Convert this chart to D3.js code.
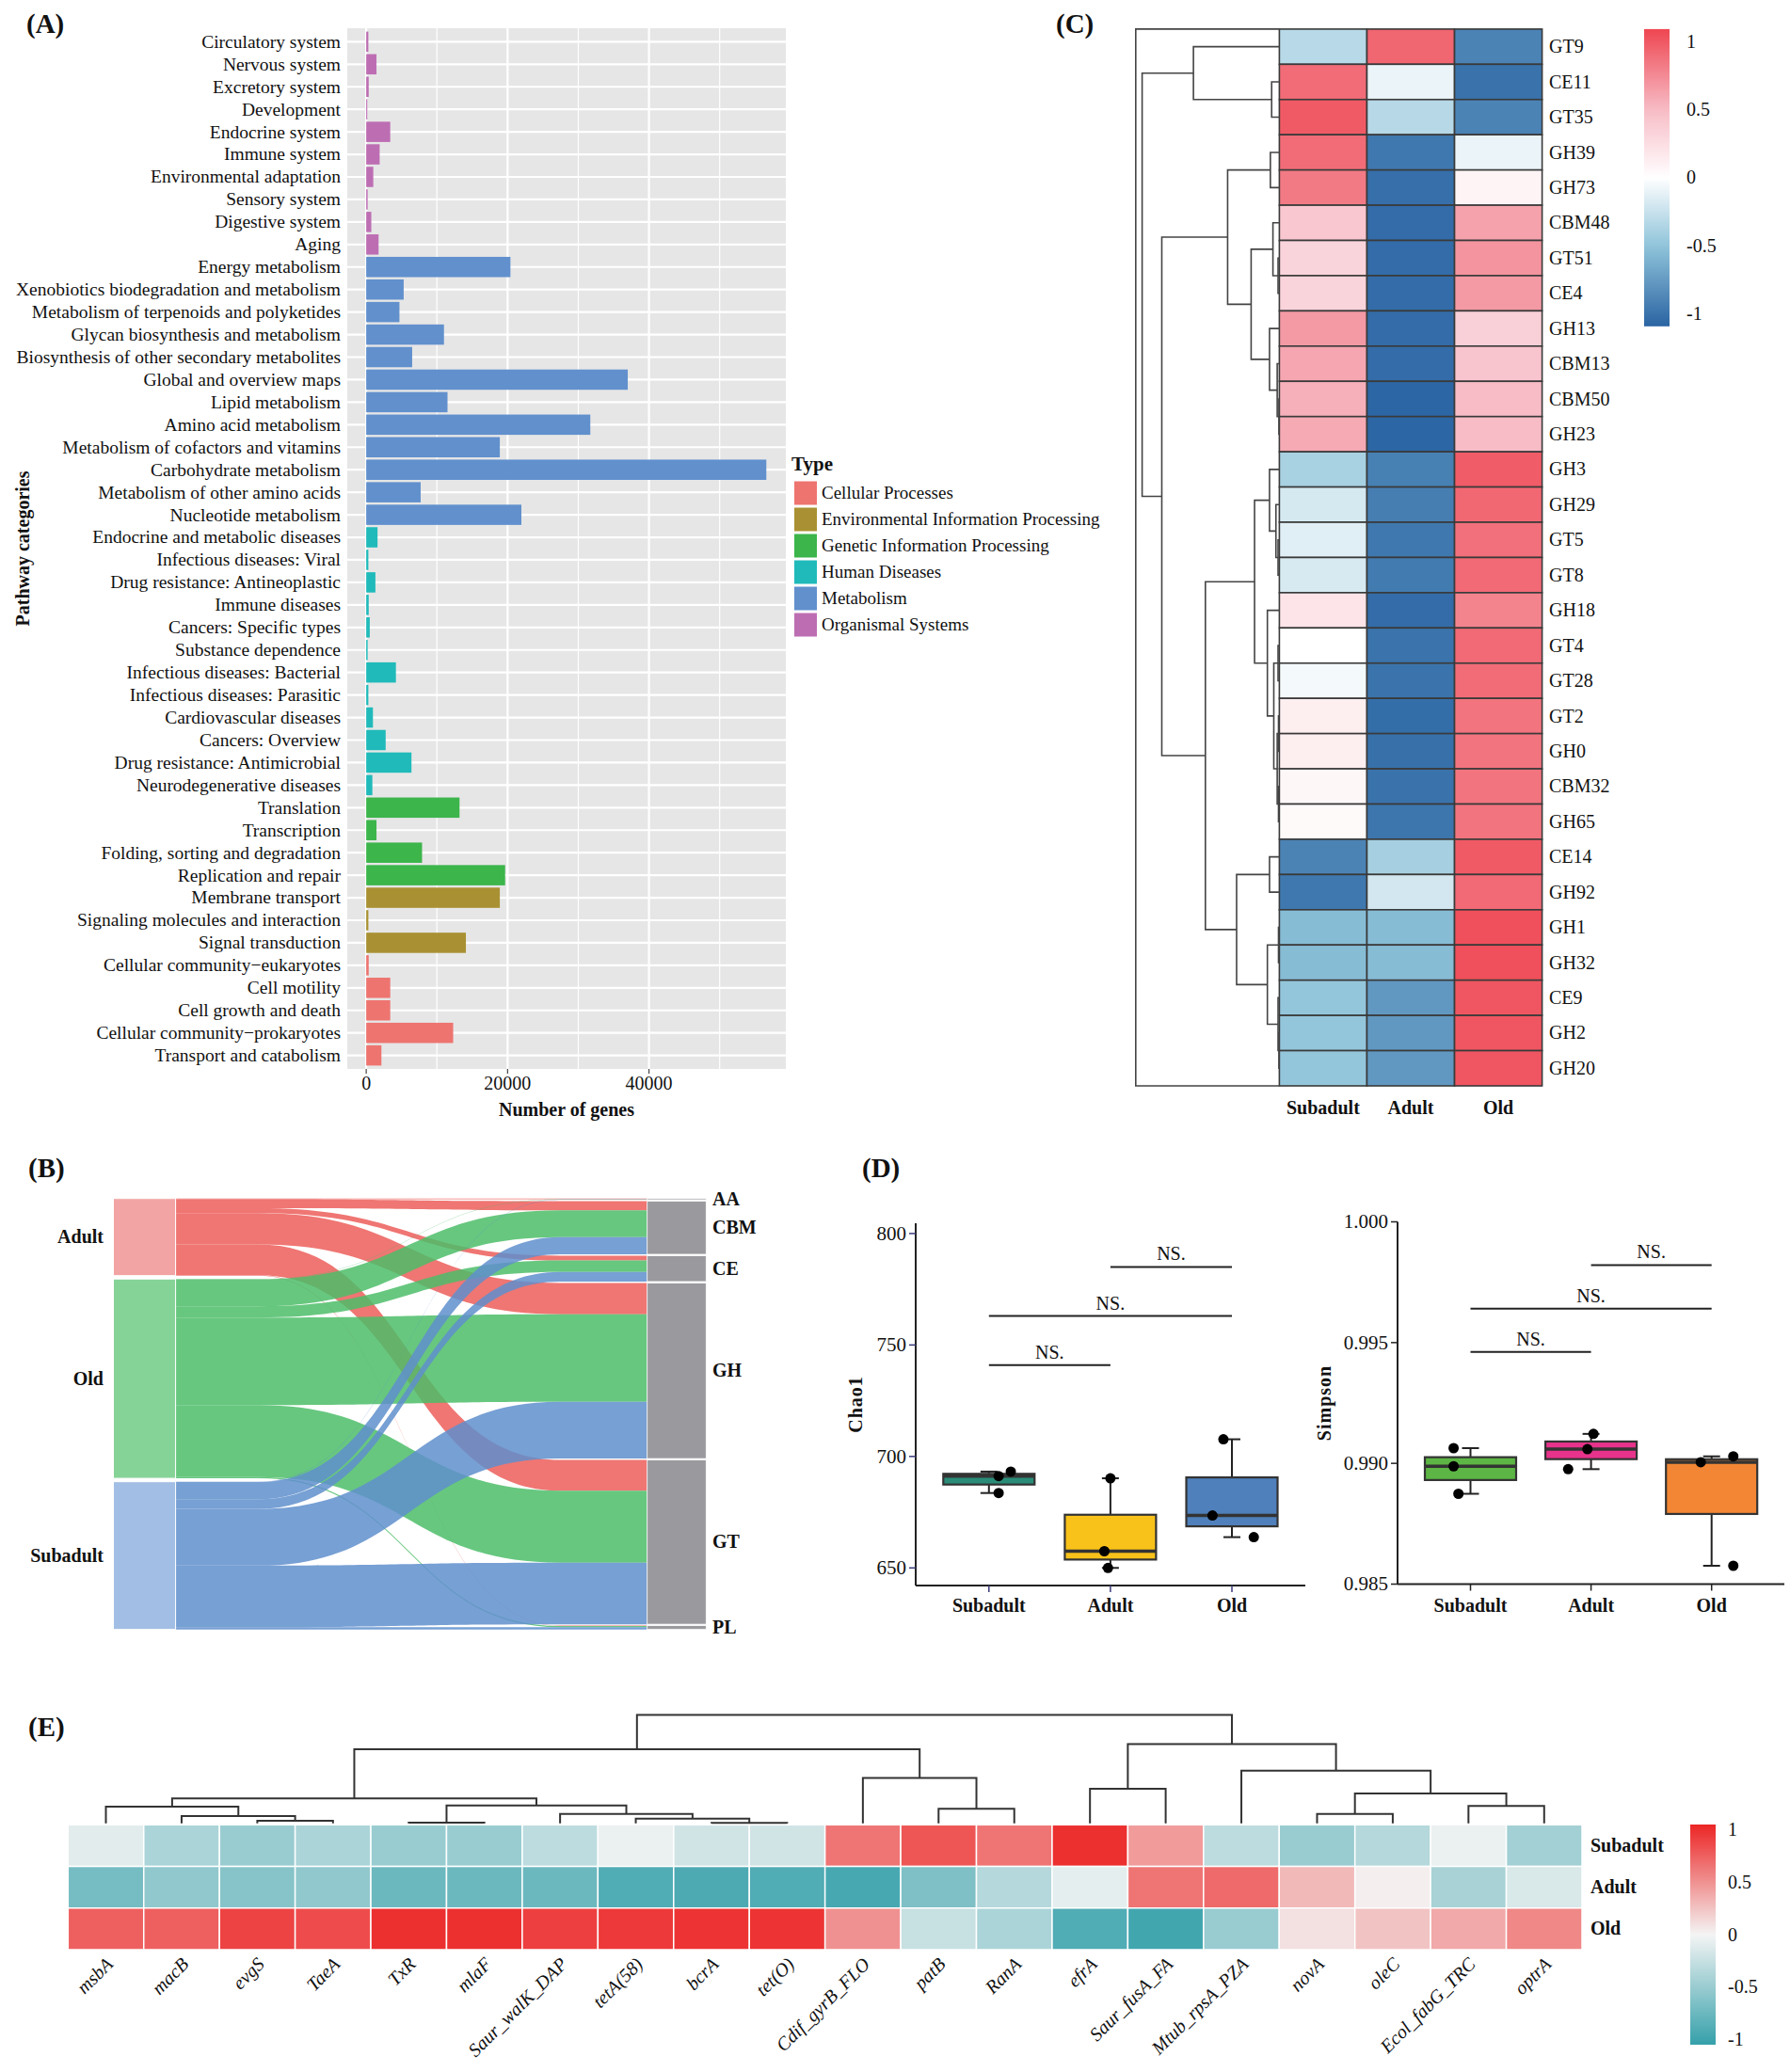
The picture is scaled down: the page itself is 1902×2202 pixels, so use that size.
<!DOCTYPE html>
<html>
<head>
<meta charset="utf-8">
<script src="https://cdn.jsdelivr.net/npm/d3@7"></script>
<style>
  body { margin: 0; background: #fff; }
  text { font-family: "Liberation Serif", "Times New Roman", serif; fill: #111; }
</style>
</head>
<body>
<div id="chart"></div>
<script>
// ---------- (A) KEGG pathway categories ----------
const pathwayNames = [
  "Circulatory system", "Nervous system", "Excretory system", "Development", "Endocrine system",
  "Immune system", "Environmental adaptation", "Sensory system", "Digestive system", "Aging",
  "Energy metabolism", "Xenobiotics biodegradation and metabolism", "Metabolism of terpenoids and polyketides",
  "Glycan biosynthesis and metabolism", "Biosynthesis of other secondary metabolites", "Global and overview maps",
  "Lipid metabolism", "Amino acid metabolism", "Metabolism of cofactors and vitamins", "Carbohydrate metabolism",
  "Metabolism of other amino acids", "Nucleotide metabolism", "Endocrine and metabolic diseases",
  "Infectious diseases: Viral", "Drug resistance: Antineoplastic", "Immune diseases", "Cancers: Specific types",
  "Substance dependence", "Infectious diseases: Bacterial", "Infectious diseases: Parasitic",
  "Cardiovascular diseases", "Cancers: Overview", "Drug resistance: Antimicrobial", "Neurodegenerative diseases",
  "Translation", "Transcription", "Folding, sorting and degradation", "Replication and repair",
  "Membrane transport", "Signaling molecules and interaction", "Signal transduction",
  "Cellular community\u2212eukaryotes", "Cell motility", "Cell growth and death",
  "Cellular community\u2212prokaryotes", "Transport and catabolism"
];
const pathwayGenes = [
  300, 1450, 350, 150, 3400, 1900, 1000, 200, 720, 1750,
  20400, 5300, 4700, 11000, 6500, 37000, 11500, 31700, 18900, 56600, 7700, 21950,
  1600, 300, 1300, 350, 500, 200, 4200, 300, 950, 2750, 6400, 870,
  13200, 1450, 7900, 19650,
  18900, 300, 14100,
  350, 3400, 3400, 12300, 2150
];
const pathwayTypes = [
  "OS", "OS", "OS", "OS", "OS", "OS", "OS", "OS", "OS", "OS",
  "M", "M", "M", "M", "M", "M", "M", "M", "M", "M", "M", "M",
  "HD", "HD", "HD", "HD", "HD", "HD", "HD", "HD", "HD", "HD", "HD", "HD",
  "GIP", "GIP", "GIP", "GIP",
  "EIP", "EIP", "EIP",
  "CP", "CP", "CP", "CP", "CP"
];
const typeKeys = ["CP", "EIP", "GIP", "HD", "M", "OS"];
const typeNames = ["Cellular Processes", "Environmental Information Processing", "Genetic Information Processing",
  "Human Diseases", "Metabolism", "Organismal Systems"];
const typeColors = ["#ee7470", "#a99133", "#3cb54b", "#20baba", "#6190cd", "#bd6eb3"];
const genesTicks = [0, 20000, 40000];
const genesMinorTicks = [10000, 30000, 50000];

// ---------- (B) alluvial: age group -> CAZy class ----------
const groupNames = ["Adult", "Old", "Subadult"];
const familyNames = ["AA", "CBM", "CE", "GH", "GT", "PL"];
const flowAdult = [2, 28, 15, 97, 95, 1];
const flowOld = [1, 83, 35, 270, 222, 4];
const flowSubadult = [1, 53, 30, 175, 190, 7];
const flowColors = ["#ec5e5a", "#4cbd68", "#5f8fcd"];
const groupNodeColors = ["#f2a4a4", "#86d397", "#a2bee4"];

// ---------- (C) CAZy family heatmap ----------
const cazyFamilies = ["GT9", "CE11", "GT35", "GH39", "GH73", "CBM48", "GT51", "CE4", "GH13", "CBM13", "CBM50", "GH23",
  "GH3", "GH29", "GT5", "GT8", "GH18", "GT4", "GT28", "GT2", "GH0", "CBM32", "GH65", "CE14", "GH92",
  "GH1", "GH32", "CE9", "GH2", "GH20"];
const cazySubadult = [-0.32, 0.9, 0.99, 0.9, 0.83, 0.42, 0.32, 0.32, 0.67, 0.61, 0.56, 0.59,
  -0.39, -0.19, -0.14, -0.18, 0.2, 0.0, -0.05, 0.13, 0.13, 0.06, 0.04, -0.9, -0.97,
  -0.55, -0.55, -0.48, -0.48, -0.48];
const cazyAdult = [0.93, -0.09, -0.33, -0.97, -1.02, -1.04, -1.04, -1.04, -1.04, -1.04, -1.08, -1.08,
  -0.92, -0.93, -0.97, -0.95, -1.04, -0.99, -0.99, -1.03, -1.01, -1.0, -0.98, -0.4, -0.2,
  -0.55, -0.55, -0.77, -0.77, -0.77];
const cazyOld = [-0.9, -1.0, -0.9, -0.09, 0.08, 0.63, 0.7, 0.67, 0.35, 0.44, 0.5, 0.5,
  0.98, 0.92, 0.88, 0.91, 0.78, 0.91, 0.9, 0.86, 0.86, 0.86, 0.86, 0.99, 0.91,
  1.04, 1.04, 1.01, 1.01, 1.01];
const cazyColumns = ["Subadult", "Adult", "Old"];
const cazyLegendTicks = [1, 0.5, 0, -0.5, -1];
// [height, left, right] merges
const cazyTree = [321,
  [201, "GT9", [18, "CE11", "GT35"]],
  [275,
    [121, [21, "GH39", "GH73"],
      [66, [15, "CBM48", [3, "GT51", "CE4"]], [23, "GH13", [5, "CBM13", [1, "CBM50", "GH23"]]]]],
    [173,
      [58, [23, "GH3", [8, "GH29", [3, "GT5", "GT8"]]],
        [28, "GH18", [13, [3, "GT4", "GT28"], [5, [2, "GT2", "GH0"], [2, "CBM32", "GH65"]]]]],
      [100, [23, "CE14", "GH92"], [28, [2, "GH1", "GH32"], [3, "CE9", [1, "GH2", "GH20"]]]]]]];

// ---------- (D) alpha diversity ----------
const ageGroups = ["Subadult", "Adult", "Old"];
const chao1Values = [[683.6, 691.2, 693.2], [650.0, 657.5, 690.2], [663.8, 673.5, 707.7]];
const chao1Jitter = [[0.08, 0.08, 0.18], [-0.02, -0.05, 0], [0.18, -0.16, -0.07]];
const simpsonValues = [[0.98874, 0.98988, 0.99063], [0.98976, 0.99059, 0.99122], [0.98576, 0.99005, 0.99029]];
const simpsonJitter = [[-0.1, -0.14, -0.14], [-0.19, -0.03, 0.02], [0.18, -0.09, 0.18]];
const chao1Ticks = [650, 700, 750, 800];
const simpsonTicks = [0.985, 0.990, 0.995, 1.000];
const chao1Brackets = [[0, 1, 741], [0, 2, 763], [1, 2, 785]];
const simpsonBrackets = [[0, 1, 0.99461], [0, 2, 0.99641], [1, 2, 0.99821]];
const chao1Colors = ["#2a8c78", "#f9c21a", "#4f80bb"];
const simpsonColors = ["#5cb544", "#e7338b", "#f28634"];

// ---------- (E) ARG heatmap ----------
const argNames = ["msbA", "macB", "evgS", "TaeA", "TxR", "mlaF", "Saur_walK_DAP", "tetA(58)", "bcrA", "tet(O)",
  "Cdif_gyrB_FLO", "patB", "RanA", "efrA", "Saur_fusA_FA", "Mtub_rpsA_PZA", "novA", "oleC", "Ecol_fabG_TRC", "optrA"];
const argSubadult = [-0.1, -0.4, -0.5, -0.4, -0.5, -0.5, -0.3, -0.05, -0.2, -0.2,
  0.65, 0.8, 0.65, 1.0, 0.45, -0.3, -0.5, -0.35, -0.05, -0.45];
const argAdult = [-0.7, -0.55, -0.6, -0.55, -0.75, -0.75, -0.75, -0.9, -0.92, -0.9,
  -0.95, -0.65, -0.35, -0.08, 0.65, 0.7, 0.3, 0.03, -0.42, -0.15];
const argOld = [0.75, 0.75, 0.9, 0.85, 1.0, 1.0, 0.92, 0.95, 0.98, 0.98,
  0.5, -0.25, -0.4, -0.9, -0.98, -0.5, 0.1, 0.25, 0.38, 0.55];
const argRows = ["Subadult", "Adult", "Old"];
const argLegendTicks = [1, 0.5, 0, -0.5, -1];
const argTree = [346,
  [236,
    [79, [53, "msbA", [23, "macB", [8, "evgS", "TaeA"]]],
      [57, [2, "TxR", "mlaF"], [30, "Saur_walK_DAP", [15, "tetA(58)", [1, "bcrA", "tet(O)"]]]]],
    [145, "Cdif_gyrB_FLO", [46, "patB", "RanA"]]],
  [253,
    [110, "efrA", "Saur_fusA_FA"],
    [168, "Mtub_rpsA_PZA", [95, [30, "novA", "oleC"], [55, "Ecol_fabG_TRC", "optrA"]]]]];

// ================================================================
const svg = d3.select("#chart").append("svg")
  .attr("width", 1902).attr("height", 2202)
  .style("background", "#fff");

// panel letters
[["(A)", 28, 35], ["(C)", 1122, 35], ["(B)", 30, 1251], ["(D)", 916, 1251], ["(E)", 30, 1845]].forEach(([t, x, y]) => {
  svg.append("text").attr("x", x).attr("y", y).attr("font-size", 29).attr("font-weight", "bold").text(t);
});

// dendrogram helper: nodes are [height, left, right], leaves are names
function drawTree(g, tree, leafPos, hScale, horizontal) {
  function walk(node) {
    if (typeof node === "string") return { p: leafPos(node), h: 0 };
    const [h, a, b] = node;
    const A = walk(a), B = walk(b);
    const p = d3.path();
    if (horizontal) {
      p.moveTo(hScale(A.h), A.p); p.lineTo(hScale(h), A.p);
      p.lineTo(hScale(h), B.p); p.lineTo(hScale(B.h), B.p);
    } else {
      p.moveTo(A.p, hScale(A.h)); p.lineTo(A.p, hScale(h));
      p.lineTo(B.p, hScale(h)); p.lineTo(B.p, hScale(B.h));
    }
    g.append("path").attr("d", p.toString());
    return { p: (A.p + B.p) / 2, h: h };
  }
  walk(tree);
}

// ---------------- (A) ----------------
{
  const g = svg.append("g");
  const left = 369, right = 835, top = 30, bottom = 1136;
  const x = d3.scaleLinear().domain([-2680, 59360]).range([left, right]);
  const y = d3.scalePoint().domain(pathwayNames).range([top, bottom]).padding(0.6);
  const color = d3.scaleOrdinal().domain(typeKeys).range(typeColors);

  g.append("rect").attr("x", left).attr("y", top).attr("width", right - left).attr("height", bottom - top)
    .attr("fill", "#e6e6e6");
  g.selectAll(".vminor").data(genesMinorTicks).join("line")
    .attr("x1", d => x(d)).attr("x2", d => x(d)).attr("y1", top).attr("y2", bottom)
    .attr("stroke", "#fff").attr("stroke-width", 1.2);
  g.selectAll(".vmajor").data(genesTicks).join("line")
    .attr("x1", d => x(d)).attr("x2", d => x(d)).attr("y1", top).attr("y2", bottom)
    .attr("stroke", "#fff").attr("stroke-width", 2.2);
  g.selectAll(".hmajor").data(pathwayNames).join("line")
    .attr("x1", left).attr("x2", right).attr("y1", d => y(d)).attr("y2", d => y(d))
    .attr("stroke", "#fff").attr("stroke-width", 2.2);

  const bh = y.step() * 0.9;
  g.selectAll(".bar").data(pathwayNames).join("rect")
    .attr("x", x(0)).attr("y", d => y(d) - bh / 2)
    .attr("width", (d, i) => x(pathwayGenes[i]) - x(0)).attr("height", bh)
    .attr("fill", (d, i) => color(pathwayTypes[i]));

  g.selectAll(".ylab").data(pathwayNames).join("text")
    .attr("x", left - 7).attr("y", d => y(d)).attr("dy", "0.33em")
    .attr("text-anchor", "end").attr("font-size", 19.5).attr("fill", "#222").text(d => d);

  g.selectAll(".xtick").data(genesTicks).join("line")
    .attr("x1", d => x(d)).attr("x2", d => x(d)).attr("y1", bottom).attr("y2", bottom + 5)
    .attr("stroke", "#444").attr("stroke-width", 1.2);
  g.selectAll(".xlab").data(genesTicks).join("text")
    .attr("x", d => x(d)).attr("y", bottom + 22).attr("text-anchor", "middle")
    .attr("font-size", 20).attr("fill", "#222").text(d => d);

  g.append("text").attr("x", (left + right) / 2).attr("y", 1186).attr("text-anchor", "middle")
    .attr("font-size", 20).attr("font-weight", "bold").text("Number of genes");
  g.append("text").attr("transform", `translate(31,${(top + bottom) / 2}) rotate(-90)`)
    .attr("text-anchor", "middle").attr("font-size", 20).attr("font-weight", "bold").text("Pathway categories");

  // legend
  g.append("text").attr("x", 841).attr("y", 500).attr("font-size", 21).attr("font-weight", "bold").text("Type");
  const leg = g.selectAll(".leg").data(typeNames).join("g")
    .attr("transform", (d, i) => `translate(844,${524 + i * 28})`);
  leg.append("rect").attr("x", 0).attr("y", -12.5).attr("width", 24).attr("height", 25)
    .attr("fill", (d, i) => typeColors[i]);
  leg.append("text").attr("x", 29).attr("y", 0).attr("dy", "0.33em").attr("font-size", 19).text(d => d);
}

// ---------------- (B) ----------------
{
  const g = svg.append("g");
  const flows = [flowAdult, flowOld, flowSubadult];
  const total = d3.sum(flows.flat());
  const bTop = 1273.7, bH = 458, gapL = 3.6;
  const k = d3.scaleLinear().domain([0, total]).range([0, bH - gapL * (groupNames.length - 1)]);
  const gapR = (bH - k(total)) / (familyNames.length - 1);
  const nodeL = [120.5, 186.6], nodeR = [687.7, 750.3];
  const xL = 187, xR = 687.7, xa = 275, xb = 595, xm = (xa + xb) / 2;

  // left strata
  let yy = bTop;
  const leftNodes = groupNames.map((name, i) => {
    const h = k(d3.sum(flows[i]));
    const n = { name, y0: yy, y1: yy + h, cursor: yy };
    yy += h + gapL;
    return n;
  });
  yy = bTop;
  const rightNodes = familyNames.map((name, j) => {
    const h = k(d3.sum(flows, f => f[j]));
    const n = { name, y0: yy, y1: yy + h, cursor: yy };
    yy += h + gapR;
    return n;
  });

  // ribbons: stacked by family inside each group on the left, by group inside each family on the right
  const ribbons = [];
  groupNames.forEach((gname, i) => {
    familyNames.forEach((fname, j) => {
      const w = k(flows[i][j]);
      const l0 = leftNodes[i].cursor; leftNodes[i].cursor += w;
      ribbons.push({ i, j, w, l0 });
    });
  });
  familyNames.forEach((fname, j) => {
    groupNames.forEach((gname, i) => {
      const r = ribbons.find(d => d.i === i && d.j === j);
      r.r0 = rightNodes[j].cursor; rightNodes[j].cursor += r.w;
    });
  });

  g.selectAll(".flow").data(ribbons).join("path")
    .attr("d", d => {
      const p = d3.path();
      const l1 = d.l0 + d.w, r1 = d.r0 + d.w;
      p.moveTo(xL, d.l0); p.lineTo(xa, d.l0);
      p.bezierCurveTo(xm, d.l0, xm, d.r0, xb, d.r0);
      p.lineTo(xR, d.r0); p.lineTo(xR, r1); p.lineTo(xb, r1);
      p.bezierCurveTo(xm, r1, xm, l1, xa, l1);
      p.lineTo(xL, l1); p.closePath();
      return p.toString();
    })
    .attr("fill", d => flowColors[d.i]).attr("fill-opacity", 0.85);

  g.selectAll(".lnode").data(leftNodes).join("rect")
    .attr("x", nodeL[0]).attr("y", d => d.y0).attr("width", nodeL[1] - nodeL[0]).attr("height", d => d.y1 - d.y0)
    .attr("fill", (d, i) => groupNodeColors[i]).attr("stroke", "#fff").attr("stroke-width", 1);
  g.selectAll(".rnode").data(rightNodes).join("rect")
    .attr("x", nodeR[0]).attr("y", d => d.y0).attr("width", nodeR[1] - nodeR[0]).attr("height", d => Math.max(d.y1 - d.y0, 1.2))
    .attr("fill", "#9a9a9e").attr("stroke", "#fff").attr("stroke-width", 0.8);

  g.selectAll(".llab").data(leftNodes).join("text")
    .attr("x", 110).attr("y", d => (d.y0 + d.y1) / 2).attr("dy", "0.33em").attr("text-anchor", "end")
    .attr("font-size", 20).attr("font-weight", "bold").text(d => d.name);
  g.selectAll(".rlab").data(rightNodes).join("text")
    .attr("x", 757).attr("y", d => (d.y0 + d.y1) / 2).attr("dy", "0.33em")
    .attr("font-size", 20).attr("font-weight", "bold").text(d => d.name);
}

// ---------------- (C) ----------------
{
  const g = svg.append("g");
  const hx0 = 1359.4, colW = 93.07, hy0 = 30.9, hy1 = 1154;
  const x = d3.scaleBand().domain(cazyColumns).range([hx0, hx0 + colW * 3]);
  const y = d3.scaleBand().domain(cazyFamilies).range([hy0, hy1]);
  const color = d3.scaleLinear().domain([-1.09, -0.5, 0, 0.5, 1.09])
    .range(["#2a64a3", "#90c4da", "#ffffff", "#f7bcc6", "#ee4651"]).clamp(true);
  const cols = [cazySubadult, cazyAdult, cazyOld];
  const cells = [];
  cazyFamilies.forEach((f, r) => cazyColumns.forEach((c, j) => cells.push({ f, c, v: cols[j][r] })));
  g.selectAll(".cell").data(cells).join("rect")
    .attr("x", d => x(d.c)).attr("y", d => y(d.f)).attr("width", x.bandwidth()).attr("height", y.bandwidth())
    .attr("fill", d => color(d.v)).attr("stroke", "#3a3a3a").attr("stroke-width", 1.6);

  g.selectAll(".rlab").data(cazyFamilies).join("text")
    .attr("x", 1646).attr("y", d => y(d) + y.bandwidth() / 2).attr("dy", "0.33em")
    .attr("font-size", 20).text(d => d);
  g.selectAll(".clab").data(cazyColumns).join("text")
    .attr("x", d => x(d) + x.bandwidth() / 2).attr("y", 1184).attr("text-anchor", "middle")
    .attr("font-size", 20).attr("font-weight", "bold").text(d => d);

  // dendrogram with frame
  const tg = g.append("g").attr("fill", "none").attr("stroke", "#444").attr("stroke-width", 1.6);
  tg.append("path").attr("d", `M${hx0},${hy0}H1206.8V${hy1}H${hx0}`);
  const hs = d3.scaleLinear().domain([0, 321]).range([hx0, 1213.6]);
  drawTree(tg, cazyTree, n => y(n) + y.bandwidth() / 2, hs, true);

  // colour bar
  const cb = d3.scaleLinear().domain([-1.09, 1.09]).range([346.8, 30.9]);
  const grad = svg.append("defs").append("linearGradient").attr("id", "gradC")
    .attr("x1", 0).attr("y1", 1).attr("x2", 0).attr("y2", 0);
  d3.range(0, 1.0001, 0.05).forEach(t => {
    grad.append("stop").attr("offset", t).attr("stop-color", color(-1.09 + t * 2.18));
  });
  g.append("rect").attr("x", 1747).attr("y", cb(1.09)).attr("width", 27).attr("height", cb(-1.09) - cb(1.09))
    .attr("fill", "url(#gradC)");
  g.selectAll(".cbt").data(cazyLegendTicks).join("text")
    .attr("x", 1792).attr("y", d => cb(d)).attr("dy", "0.33em").attr("font-size", 20).text(d => d);
}

// ---------------- (D) ----------------
function boxPanel(opts) {
  const g = svg.append("g");
  const x = d3.scalePoint().domain(ageGroups).range(opts.xr);
  const y = d3.scaleLinear().domain(opts.yd).range(opts.yr);
  const step = opts.xr[1] - opts.xr[0];
  const bw = 97;
  // axes
  g.append("line").attr("x1", opts.axX).attr("x2", opts.axX).attr("y1", opts.yr[1]).attr("y2", opts.yr[0])
    .attr("stroke", "#222").attr("stroke-width", 2);
  g.append("line").attr("x1", opts.axX).attr("x2", opts.axRight).attr("y1", opts.yr[0]).attr("y2", opts.yr[0])
    .attr("stroke", "#222").attr("stroke-width", 2);
  g.selectAll(".yt").data(opts.ticks).join("line")
    .attr("x1", opts.axX - 7).attr("x2", opts.axX).attr("y1", d => y(d)).attr("y2", d => y(d))
    .attr("stroke", opts.tickColor).attr("stroke-width", 1.5);
  g.selectAll(".ytl").data(opts.ticks).join("text")
    .attr("x", opts.axX - 10).attr("y", d => y(d)).attr("dy", "0.33em").attr("text-anchor", "end")
    .attr("font-size", 21).attr("fill", "#333").text(opts.fmt);
  g.selectAll(".xt").data(ageGroups).join("line")
    .attr("x1", d => x(d)).attr("x2", d => x(d)).attr("y1", opts.yr[0]).attr("y2", opts.yr[0] + 7)
    .attr("stroke", opts.tickColor).attr("stroke-width", 1.5);
  g.selectAll(".xtl").data(ageGroups).join("text")
    .attr("x", d => x(d)).attr("y", 1713).attr("text-anchor", "middle")
    .attr("font-size", 20).attr("font-weight", "bold").text(d => d);
  g.append("text").attr("transform", `translate(${opts.titleX},${(opts.yr[0] + opts.yr[1]) / 2}) rotate(-90)`)
    .attr("text-anchor", "middle").attr("font-size", 20).attr("font-weight", "bold")
    .attr("letter-spacing", 1).text(opts.title);

  // boxes
  opts.values.forEach((vals, i) => {
    const s = vals.slice().sort(d3.ascending);
    const q1 = d3.quantile(s, 0.25), med = d3.quantile(s, 0.5), q3 = d3.quantile(s, 0.75);
    const cx = x(ageGroups[i]);
    const wg = g.append("g").attr("stroke", "#222").attr("stroke-width", 2);
    wg.append("line").attr("x1", cx).attr("x2", cx).attr("y1", y(s[0])).attr("y2", y(q1));
    wg.append("line").attr("x1", cx).attr("x2", cx).attr("y1", y(q3)).attr("y2", y(s[s.length - 1]));
    wg.append("line").attr("x1", cx - 9).attr("x2", cx + 9).attr("y1", y(s[0])).attr("y2", y(s[0]));
    wg.append("line").attr("x1", cx - 9).attr("x2", cx + 9).attr("y1", y(s[s.length - 1])).attr("y2", y(s[s.length - 1]));
    wg.append("rect").attr("x", cx - bw / 2).attr("y", y(q3)).attr("width", bw).attr("height", y(q1) - y(q3))
      .attr("fill", opts.colors[i]).attr("stroke", "#333").attr("stroke-width", 2.2);
    wg.append("line").attr("x1", cx - bw / 2).attr("x2", cx + bw / 2).attr("y1", y(med)).attr("y2", y(med))
      .attr("stroke", "#333").attr("stroke-width", 3.5);
    g.selectAll(null).data(vals).join("circle")
      .attr("cx", (d, j) => cx + opts.jitter[i][j] * step / 2).attr("cy", d => y(d)).attr("r", 5.5)
      .attr("fill", "#000");
  });

  // significance brackets
  opts.brackets.forEach(([a, b, v]) => {
    g.append("line").attr("x1", x(ageGroups[a])).attr("x2", x(ageGroups[b])).attr("y1", y(v)).attr("y2", y(v))
      .attr("stroke", "#222").attr("stroke-width", 2);
    g.append("text").attr("x", (x(ageGroups[a]) + x(ageGroups[b])) / 2).attr("y", y(v) - 7)
      .attr("text-anchor", "middle").attr("font-size", 20).text("NS.");
  });
}
boxPanel({
  xr: [1050.8, 1309], yd: [642.1, 804.6], yr: [1685, 1300], axX: 973, axRight: 1387,
  ticks: chao1Ticks, fmt: d => d, values: chao1Values, jitter: chao1Jitter, colors: chao1Colors,
  brackets: chao1Brackets, title: "Chao1", titleX: 916, tickColor: "#3a3a7a"
});
boxPanel({
  xr: [1562.5, 1818.7], yd: [0.985, 1.0], yr: [1683.5, 1298.5], axX: 1485, axRight: 1896,
  ticks: simpsonTicks, fmt: d3.format(".3f"), values: simpsonValues, jitter: simpsonJitter, colors: simpsonColors,
  brackets: simpsonBrackets, title: "Simpson", titleX: 1414, tickColor: "#222"
});

// ---------------- (E) ----------------
{
  const g = svg.append("g");
  const ex0 = 72.3, ex1 = 1681, ey0 = 1939.3, ey1 = 2072;
  const x = d3.scaleBand().domain(argNames).range([ex0, ex1]);
  const y = d3.scaleBand().domain(argRows).range([ey0, ey1]);
  const color = d3.scaleLinear().domain([-1.05, 0, 1.05]).range(["#35a0aa", "#f4f4f4", "#ec2525"]).clamp(true);
  const rows = [argSubadult, argAdult, argOld];
  const cells = [];
  argRows.forEach((r, i) => argNames.forEach((n, j) => cells.push({ r, n, v: rows[i][j] })));
  g.selectAll(".cell").data(cells).join("rect")
    .attr("x", d => x(d.n)).attr("y", d => y(d.r)).attr("width", x.bandwidth()).attr("height", y.bandwidth())
    .attr("fill", d => color(d.v)).attr("stroke", "#fff").attr("stroke-width", 1.5);

  g.selectAll(".rlab").data(argRows).join("text")
    .attr("x", 1690).attr("y", d => y(d) + y.bandwidth() / 2).attr("dy", "0.33em")
    .attr("font-size", 20).attr("font-weight", "bold").text(d => d);
  g.selectAll(".clab").data(argNames).join("text")
    .attr("transform", d => `translate(${x(d) + x.bandwidth() / 2 + 4},${ey1 + 12}) rotate(-45)`)
    .attr("text-anchor", "end").attr("dy", "0.33em").attr("font-size", 20).attr("font-style", "italic")
    .text(d => d);

  const tg = g.append("g").attr("fill", "none").attr("stroke", "#333").attr("stroke-width", 2);
  const hs = d3.scaleLinear().domain([0, 346]).range([1937.7, 1822.4]);
  drawTree(tg, argTree, n => x(n) + x.bandwidth() / 2, hs, false);

  const cb = d3.scaleLinear().domain([-1.05, 1.05]).range([2173, 1939]);
  const grad = svg.select("defs").append("linearGradient").attr("id", "gradE")
    .attr("x1", 0).attr("y1", 1).attr("x2", 0).attr("y2", 0);
  d3.range(0, 1.0001, 0.05).forEach(t => {
    grad.append("stop").attr("offset", t).attr("stop-color", color(-1.05 + t * 2.1));
  });
  g.append("rect").attr("x", 1796).attr("y", cb(1.05)).attr("width", 27).attr("height", cb(-1.05) - cb(1.05))
    .attr("fill", "url(#gradE)");
  g.selectAll(".cbt").data(argLegendTicks).join("text")
    .attr("x", 1836).attr("y", d => cb(d)).attr("dy", "0.33em").attr("font-size", 20).text(d => d);
}
</script>
</body>
</html>
